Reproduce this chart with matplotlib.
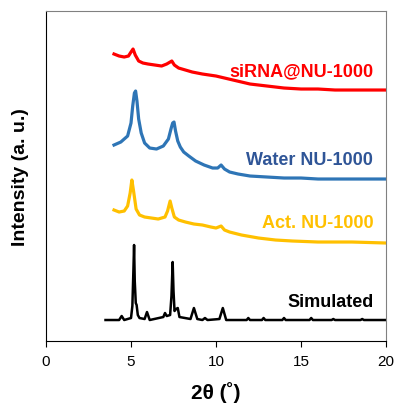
import matplotlib
matplotlib.use("Agg")
import matplotlib.pyplot as plt

plt.rcParams['font.family'] = ['Liberation Sans', 'DejaVu Sans']

# simulated pattern
sim_x = [3.5, 4.3, 4.45, 4.6, 5.0, 5.08, 5.14, 5.18, 5.22, 5.28, 5.33, 5.4, 5.5, 5.8, 5.94, 6.1,
         6.9, 7.0, 7.1, 7.3, 7.38, 7.45, 7.5, 7.56, 7.65, 7.75, 7.85, 8.5, 8.7, 8.9, 9.2, 9.35, 9.5,
         10.2, 10.4, 10.6, 11.8, 11.9, 12.0, 12.7, 12.8, 12.9, 13.9, 14.0, 14.1, 15.5, 15.6, 15.7,
         16.8, 16.9, 17.0, 18.5, 18.6, 18.7, 20]
sim_y = [21, 21, 25, 21, 23, 35, 70, 96, 60, 38, 36, 26, 23, 22, 29, 21,
         24, 28, 25, 26, 45, 79, 50, 30, 32, 33, 24, 22, 33, 22, 21, 23, 21,
         22, 33, 21, 21, 23, 21, 21, 23, 21, 21, 23, 21, 21, 23, 21,
         21, 22, 21, 21, 22, 21, 21]

# activated NU-1000
act_x = [4.0, 4.3, 4.6, 4.8, 4.95, 5.05, 5.15, 5.3, 5.5, 5.8, 6.2, 6.6, 7.0, 7.15, 7.3, 7.4, 7.55,
         7.8, 8.2, 8.7, 9.2, 9.7, 10.0, 10.3, 10.5, 10.8, 11.5, 12.5, 13.5, 14.5, 16, 18, 20]
act_y = [131, 129, 130, 135, 148, 161, 150, 132, 126, 124, 123, 122, 124, 130, 140, 133, 124,
         121, 119, 117, 116, 114, 113, 115, 111, 109, 106, 103, 101, 100, 99, 99, 98]

# water NU-1000
wat_x = [4.0, 4.4, 4.8, 5.0, 5.1, 5.2, 5.27, 5.35, 5.45, 5.6, 5.8, 6.1, 6.5, 6.9, 7.2, 7.35, 7.45,
         7.53, 7.62, 7.75, 7.9, 8.1, 8.4, 8.8, 9.3, 9.8, 10.1, 10.3, 10.5, 10.8, 11.3, 12, 13, 14,
         15, 16, 18, 20]
wat_y = [196, 199, 205, 218, 235, 248, 250, 240, 222, 208, 198, 193, 192, 195, 202, 212, 218,
         219, 210, 200, 194, 189, 185, 180, 176, 173, 173, 176, 172, 169, 167, 165, 164, 163,
         163, 162, 162, 162]

# siRNA@NU-1000
sir_x = [4.0, 4.3, 4.6, 4.85, 5.0, 5.12, 5.25, 5.45, 5.7, 6.0, 6.4, 6.8, 7.1, 7.3, 7.4, 7.55, 7.8,
         8.2, 8.6, 9.2, 10, 11, 12, 13, 14, 15, 16, 17, 18, 19, 20]
sir_y = [287, 285, 284, 285, 289, 292, 286, 280, 278, 277, 276, 275, 277, 279, 280, 276, 273,
         271, 269, 267, 265, 261, 257, 255, 253, 252, 252, 251, 251, 251, 251]

fig = plt.figure(figsize=(3.97, 4.06), dpi=100)
ax = fig.add_axes([0.1159, 0.1576, 0.8564, 0.8128])

ax.plot(sim_x, sim_y, color='black', lw=1.8)
ax.plot(act_x, act_y, color='#FFC000', lw=2.3)
ax.plot(wat_x, wat_y, color='#2E75B6', lw=2.3)
ax.plot(sir_x, sir_y, color='#FF0000', lw=2.3)

tkw = dict(ha='right', va='baseline', fontsize=13, fontweight='bold')
ax.text(19.25, 266, 'siRNA@NU-1000', color='#FF0000', **tkw)
ax.text(19.25, 177, 'Water NU-1000', color='#2F5597', **tkw)
ax.text(19.25, 114, 'Act. NU-1000', color='#FFC000', **tkw)
ax.text(19.25, 35, 'Simulated', color='black', **tkw)

ax.set_xlim(0, 20)
ax.set_ylim(0, 330)
ax.set_xticks([0, 5, 10, 15, 20])
ax.set_yticks([])
ax.tick_params(axis='x', labelsize=11, direction='out', length=4, pad=5)
ax.set_xlabel('2θ (˚)', fontsize=15, fontweight='bold', labelpad=10)
ax.set_ylabel('Intensity (a. u.)', fontsize=14, fontweight='bold', labelpad=12)
ax.spines['top'].set_color('#808080')
ax.spines['right'].set_color('#808080')

fig.savefig('out.png', dpi=100)
